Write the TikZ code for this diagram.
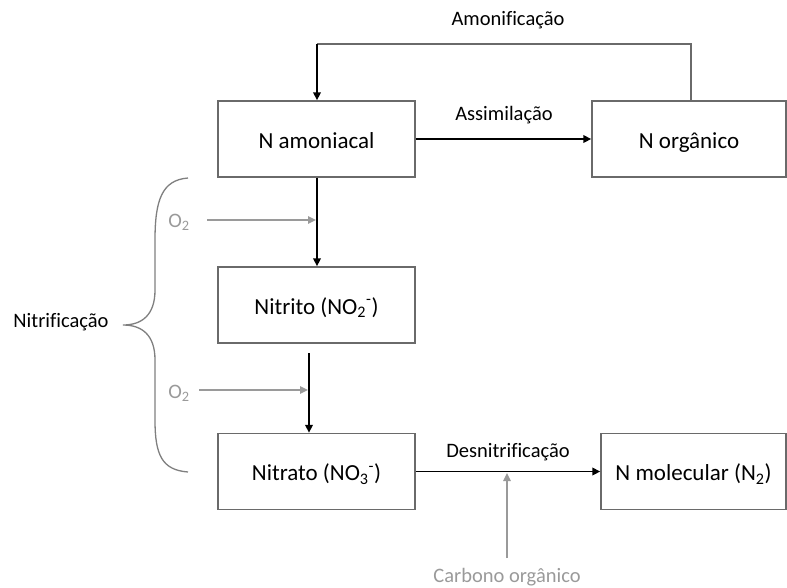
\documentclass[tikz,border=0pt]{standalone}
\usepackage{fontspec}
\setmainfont{Carlito}[Ligatures=NoCommon]
\usetikzlibrary{arrows.meta}
\definecolor{boxline}{HTML}{6A6A6A}
\definecolor{lightink}{HTML}{9A9A9A}
\definecolor{braceink}{HTML}{7F7F7F}
\begin{document}
\begin{tikzpicture}[x=1pt,y=-1pt,
  stage/.style={draw=boxline,line width=1.4pt,fill=white,inner sep=0pt,
    text height=20pt,text depth=2pt,
    font=\fontsize{23}{27}\selectfont},
  label/.style={inner sep=0pt,font=\fontsize{20.5}{24}\selectfont},
  graylabel/.style={label,text=lightink},
  flow/.style={line width=1.8pt,-{Triangle[length=8pt,width=7.5pt]}},
  grayflow/.style={line width=1.6pt,draw=lightink,-{Triangle[length=8pt,width=7.5pt,fill=lightink]}},
  loopline/.style={line width=1.4pt,draw=boxline}]
\useasboundingbox (0,0) rectangle (787,587);

% process stages
\node[stage,minimum width=197pt,minimum height=76pt] (amon) at (316.5,139) {N amoniacal};
\node[stage,minimum width=194pt,minimum height=76pt] (org)  at (689,139) {N orgânico};
\node[stage,minimum width=197pt,minimum height=76pt] (nitri) at (316.5,305) {Nitrito (NO\textsubscript{2}\textsuperscript{-})};
\node[stage,minimum width=197pt,minimum height=76pt] (nitra) at (316.5,471.5) {Nitrato (NO\textsubscript{3}\textsuperscript{-})};
\node[stage,minimum width=185pt,minimum height=76pt] (mol)  at (693.5,471.5) {N molecular (N\textsubscript{2})};

% process labels
\node[label] (lamon) at (508,20) {Amonificação};
\node[label] (lassim) at (504,115) {Assimilação};
\node[label] (ldesn) at (508,452) {Desnitrificação};
\node[label] (lnitr) at (61,322) {Nitrificação};
\node[graylabel] (o2a) at (179,222) {O\textsubscript{2}};
\node[graylabel] (o2b) at (179,393) {O\textsubscript{2}};
\node[graylabel] (carb) at (507,577) {Carbono orgânico};

% ammonification loop
\coordinate (loopR) at (691,44);
\coordinate (loopL) at (317,44);
\draw[loopline] (org.north -| loopR) -- (loopR) -- (loopL);
\draw[flow] (loopL) -- (amon.north -| loopL);

% assimilation and denitrification
\draw[flow] (amon.east) -- (org.west);
\draw[flow] (nitra.east) -- (mol.west);
\coordinate (carbIn) at (507,473);
\coordinate (carbOut) at (507,558);
\draw[grayflow] (carbOut) -- (carbIn);

% nitrification steps
\coordinate (s1) at (317,178);
\draw[flow] (amon.south -| s1) -- (nitri.north -| s1);
\coordinate (s2top) at (309,353);
\draw[flow] (s2top) -- (nitra.north -| s2top);
\coordinate (o2aEnd) at (316,220);
\coordinate (o2bEnd) at (308,390);
\draw[grayflow] (207,220) -- (o2aEnd);
\draw[grayflow] (199,390) -- (o2bEnd);

% brace grouping the nitrification steps
\draw[braceink,line width=1.3pt]
  (188,178) .. controls (162,180) and (155,200) .. (155,240)
  -- (155,290) .. controls (155,315) and (142,325) .. (123,325)
  .. controls (142,325) and (155,335) .. (155,360)
  -- (155,420) .. controls (155,455) and (162,470) .. (188,472);
\end{tikzpicture}
\end{document}
